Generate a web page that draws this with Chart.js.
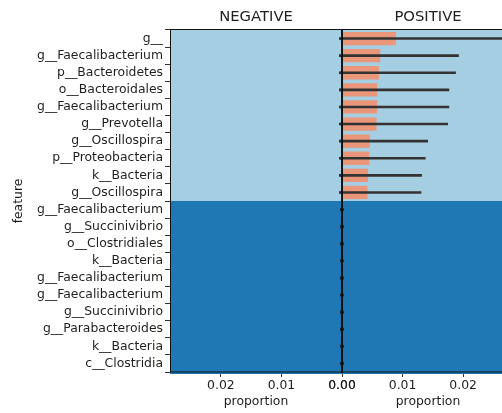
<!DOCTYPE html>
<html>
<head>
<meta charset="utf-8">
<script src="https://cdn.jsdelivr.net/npm/chart.js@4.4.1/dist/chart.umd.min.js"></script>
<style>
  html, body { margin: 0; padding: 0; background: #fff; overflow: hidden; }
  #wrap { position: relative; width: 502px; height: 413px; overflow: hidden; }
  #neg { position: absolute; left: 0; top: 0; }
  #pos { position: absolute; left: 322px; top: 0; }
</style>
</head>
<body>
<div id="wrap">
  <canvas id="neg" width="370" height="413"></canvas>
  <canvas id="pos" width="210" height="413"></canvas>
</div>
<script>
const features = [
  'g__', 'g__Faecalibacterium', 'p__Bacteroidetes', 'o__Bacteroidales',
  'g__Faecalibacterium', 'g__Prevotella', 'g__Oscillospira', 'p__Proteobacteria',
  'k__Bacteria', 'g__Oscillospira', 'g__Faecalibacterium', 'g__Succinivibrio',
  'o__Clostridiales', 'k__Bacteria', 'g__Faecalibacterium', 'g__Faecalibacterium',
  'g__Succinivibrio', 'g__Parabacteroides', 'k__Bacteria', 'c__Clostridia'
]
// which side each feature is enriched in (0 = positive, 1 = negative)
const featureGroup = [0, 0, 0, 0, 0, 0, 0, 0, 0, 0, 1, 1, 1, 1, 1, 1, 1, 1, 1, 1]

const negValues = [0, 0, 0, 0, 0, 0, 0, 0, 0, 0, 0, 0, 0, 0, 0, 0, 0, 0, 0, 0]
const negErrors = [0, 0, 0, 0, 0, 0, 0, 0, 0, 0, 0, 0, 0, 0, 0, 0, 0, 0, 0, 0]
const posValues = [0.0089, 0.0063, 0.0061, 0.0058, 0.0058, 0.0057, 0.0046, 0.0045, 0.0043, 0.0042,
  0, 0, 0, 0, 0, 0, 0, 0, 0, 0]
const posErrors = [0.0200, 0.0130, 0.0127, 0.0119, 0.0119, 0.0118, 0.0096, 0.0093, 0.0089, 0.0089,
  0, 0, 0, 0, 0, 0, 0, 0, 0, 0]

const xTicks = [0, 0.01, 0.02]
const xMax = 0.0284

const bandColors = ['#a6cee3', '#1f78b4']
const barColor = '#e9967a'
const errColor = '#333333'
const textColor = '#1f1f1f'

Chart.defaults.font.family = '"DejaVu Sans", sans-serif'
Chart.defaults.font.size = 12.4
Chart.defaults.color = textColor

// shaded row bands behind the bars
const bands = {
  id: 'bands',
  beforeDatasetsDraw(chart) {
    const { ctx, chartArea: a, scales: { y } } = chart
    const h = y.getPixelForValue(1) - y.getPixelForValue(0)
    ctx.save()
    featureGroup.forEach((g, i) => {
      const c = y.getPixelForValue(i)
      ctx.fillStyle = bandColors[g]
      ctx.fillRect(a.left, Math.round(c - h / 2), a.right - a.left, Math.ceil(h) + 1)
    })
    ctx.restore()
  }
}

// horizontal error bars, clipped to the panel; zero-width ones show as a dot
const errorBars = {
  id: 'errorBars',
  afterDatasetsDraw(chart, args, opts) {
    const { ctx, chartArea: a, scales: { x, y } } = chart
    const vals = chart.data.datasets[0].data
    ctx.save()
    ctx.beginPath()
    ctx.rect(a.left - 3, a.top, a.right - a.left + 6, a.bottom - a.top)
    ctx.clip()
    ctx.strokeStyle = errColor
    ctx.fillStyle = '#111'
    ctx.lineWidth = 2.6
    vals.forEach((v, i) => {
      const e = opts.errors[i]
      const py = y.getPixelForValue(i)
      if (e === 0) {
        ctx.beginPath()
        ctx.arc(x.getPixelForValue(v), py, 1.9, 0, Math.PI * 2)
        ctx.fill()
        return
      }
      ctx.beginPath()
      ctx.moveTo(x.getPixelForValue(v - e), py)
      ctx.lineTo(x.getPixelForValue(v + e), py)
      ctx.stroke()
    })
    ctx.restore()
  }
}

// axes frame and panel heading
const frame = {
  id: 'frame',
  afterDraw(chart, args, opts) {
    const { ctx, chartArea: a } = chart
    ctx.save()
    ctx.strokeStyle = '#111'
    ctx.lineWidth = 1
    ctx.strokeRect(a.left + 0.5, a.top - 0.5, a.right - a.left - 0.5, a.bottom - a.top + 0.5)
    if (opts.zeroEdge) {
      // the shared zero spine between the two panels is drawn heavier
      ctx.lineWidth = 1.8
      ctx.beginPath()
      ctx.moveTo(a.left, a.top - 1)
      ctx.lineTo(a.left, a.bottom + 1)
      ctx.stroke()
    }
    ctx.fillStyle = textColor
    ctx.font = '14.8px "DejaVu Sans", sans-serif'
    ctx.textAlign = 'center'
    ctx.textBaseline = 'middle'
    ctx.fillText(opts.title, (a.left + a.right) / 2, 17)
    ctx.restore()
  }
}

function xScale(reverse) {
  return {
    type: 'linear',
    reverse: reverse,
    min: 0,
    max: xMax,
    afterFit: s => { s.height = 41 },
    afterBuildTicks: s => { s.ticks = xTicks.map(v => ({ value: v })) },
    ticks: { padding: 1, callback: v => v.toFixed(2), color: textColor },
    grid: { drawOnChartArea: false, drawTicks: true, tickLength: 5, tickColor: '#333' },
    border: { display: false },
    title: { display: true, text: 'proportion', padding: { top: 0, bottom: 4 }, color: textColor }
  }
}

function panel(canvasId, values, errors, title, padding, yOpts, reverse, zeroEdge) {
  return new Chart(document.getElementById(canvasId), {
    type: 'bar',
    data: {
      labels: features,
      datasets: [{
        data: values,
        backgroundColor: barColor,
        barPercentage: 0.78,
        categoryPercentage: 1
      }]
    },
    options: {
      indexAxis: 'y',
      responsive: false,
      animation: false,
      layout: { padding: padding },
      scales: { x: xScale(reverse), y: yOpts },
      plugins: {
        legend: { display: false },
        tooltip: { enabled: false },
        errorBars: { errors: errors },
        frame: { title: title, zeroEdge: zeroEdge }
      }
    },
    plugins: [bands, errorBars, frame]
  })
}

panel('neg', negValues, negErrors, 'NEGATIVE',
  { top: 30, left: 0, right: 28, bottom: 0 },
  {
    afterFit: s => { s.width = 170 },
    ticks: { padding: 2, color: textColor, autoSkip: false },
    grid: { drawOnChartArea: false, drawTicks: true, tickLength: 5, tickColor: '#333' },
    border: { display: false },
    title: { display: true, text: 'feature', padding: { top: 11, bottom: 0 }, color: textColor }
  }, true, false)

panel('pos', posValues, posErrors, 'POSITIVE',
  { top: 30, left: 20, right: 18, bottom: 0 },
  { display: false }, false, true)
</script>
</body>
</html>
